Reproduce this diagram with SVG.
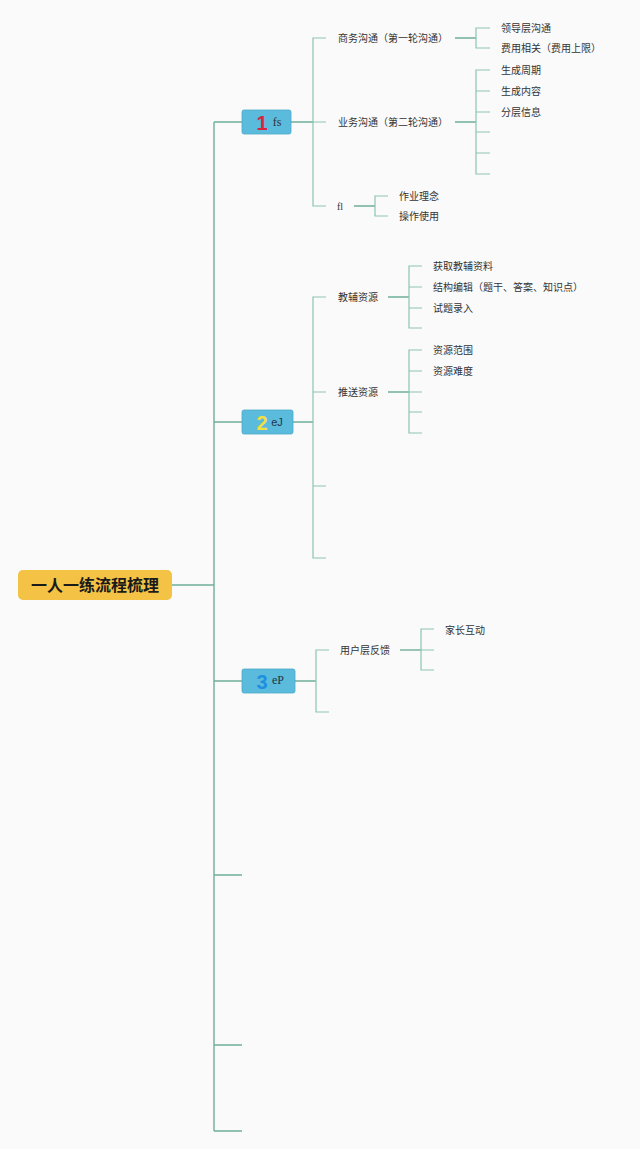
<svg xmlns="http://www.w3.org/2000/svg" width="640" height="1149" viewBox="0 0 640 1149">
<style>
.c{fill:none;stroke:#8cc4b3;stroke-width:1.2}
.m{fill:none;stroke:#6fae98;stroke-width:1.4}
.t{font-family:"Noto Sans CJK SC","Liberation Sans",sans-serif;font-size:10px;fill:#333}
.box{fill:#5bbbdc;stroke:#4aa8c8;stroke-width:0.8}
</style>
<rect width="640" height="1149" fill="#fafafa"/>
<g id="connectors">
<path class="m" d="M172 585H214M214 122V1131M214 122H242M214 422H242M214 681H242M214 875H242M214 1045H242M214 1131H242"/>
<path class="m" d="M291 122H313M293 422H313M295 681H316"/>
<path class="c" d="M326 38H313V206H326M313 122H326"/>
<path class="m" d="M455 38H476M455 122H476M354 206H375"/>
<path class="c" d="M490 28H476V48H490"/>
<path class="c" d="M490 70H476V174H490M476 91H490M476 112H490M476 132H490M476 153H490"/>
<path class="c" d="M388 196H375V216H388"/>
<path class="c" d="M326 297H313V558H326M313 392H326M313 486H326"/>
<path class="m" d="M388 297H409M388 392H409"/>
<path class="c" d="M422 266H409V328H422M409 287H422M409 308H422"/>
<path class="c" d="M422 350H409V433H422M409 371H422M409 392H422M409 412H422"/>
<path class="c" d="M329 650H316V712H329"/>
<path class="m" d="M400 650H421"/>
<path class="c" d="M434 629H421V670H434M421 650H434"/>
</g>
<g id="root">
<rect x="18" y="570" width="154" height="30" rx="5" fill="#f4c245"/>
<text x="95" y="591" text-anchor="middle" font-family="Noto Sans CJK SC,sans-serif" font-size="16" font-weight="bold" fill="#1a1a1a">一人一练流程梳理</text>
</g>
<g id="n1">
<rect class="box" x="242" y="110" width="49" height="24" rx="2"/>
<text x="262" y="130" text-anchor="middle" font-family="Liberation Sans,sans-serif" font-size="20" font-weight="bold" fill="#d8243c">1</text>
<text x="277" y="126" text-anchor="middle" font-family="Liberation Serif,serif" font-size="12" fill="#333">fs</text>
</g>
<g id="n2">
<rect class="box" x="242" y="410" width="51" height="24" rx="2"/>
<text x="262" y="430" text-anchor="middle" font-family="Liberation Sans,sans-serif" font-size="20" font-weight="bold" fill="#f2e040">2</text>
<text x="277" y="426" text-anchor="middle" font-family="Liberation Sans,sans-serif" font-size="11" fill="#234">eJ</text>
</g>
<g id="n3">
<rect class="box" x="242" y="669" width="53" height="24" rx="2"/>
<text x="262" y="689" text-anchor="middle" font-family="Liberation Sans,sans-serif" font-size="20" font-weight="bold" fill="#1f8fe0">3</text>
<text x="278" y="684" text-anchor="middle" font-family="Liberation Serif,serif" font-size="12" fill="#234">eP</text>
</g>
<g id="n1a"><text class="t" x="338" y="42">商务沟通（第一轮沟通）</text></g>
<g id="n1a1"><text class="t" x="501" y="32">领导层沟通</text></g>
<g id="n1a2"><text class="t" x="501" y="52">费用相关（费用上限）</text></g>
<g id="n1b"><text class="t" x="338" y="126">业务沟通（第二轮沟通）</text></g>
<g id="n1b1"><text class="t" x="501" y="74">生成周期</text></g>
<g id="n1b2"><text class="t" x="501" y="95">生成内容</text></g>
<g id="n1b3"><text class="t" x="501" y="116">分层信息</text></g>
<g id="n1c"><text x="337" y="210" font-family="Liberation Serif,serif" font-size="10" fill="#333">fl</text></g>
<g id="n1c1"><text class="t" x="399" y="200">作业理念</text></g>
<g id="n1c2"><text class="t" x="399" y="220">操作使用</text></g>
<g id="n2a"><text class="t" x="338" y="301">教辅资源</text></g>
<g id="n2a1"><text class="t" x="433" y="270">获取教辅资料</text></g>
<g id="n2a2"><text class="t" x="433" y="291">结构编辑（题干、答案、知识点）</text></g>
<g id="n2a3"><text class="t" x="433" y="312">试题录入</text></g>
<g id="n2b"><text class="t" x="338" y="396">推送资源</text></g>
<g id="n2b1"><text class="t" x="433" y="354">资源范围</text></g>
<g id="n2b2"><text class="t" x="433" y="375">资源难度</text></g>
<g id="n3a"><text class="t" x="340" y="654">用户层反馈</text></g>
<g id="n3a1"><text class="t" x="445" y="634">家长互动</text></g>
</svg>
